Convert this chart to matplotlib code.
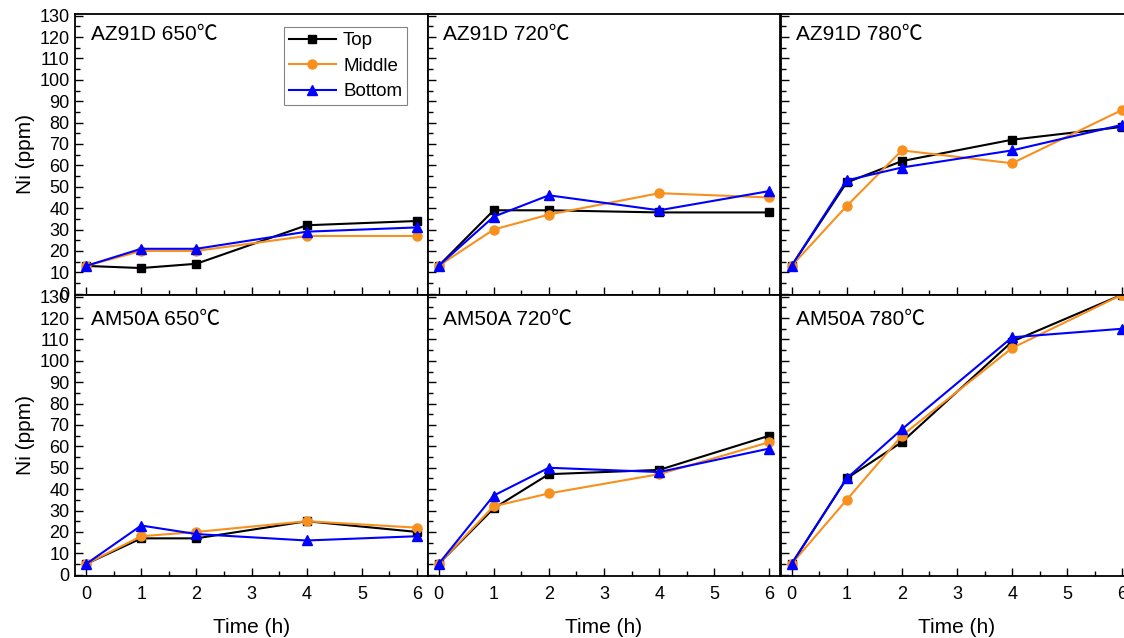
import matplotlib
matplotlib.use("Agg")
import matplotlib.pyplot as plt
from matplotlib.ticker import MultipleLocator

plt.rcParams['font.family'] = ['Liberation Sans', 'DejaVu Sans']

time_h = [0, 1, 2, 4, 6]
series_names = ["Top", "Middle", "Bottom"]
panel_titles = ["AZ91D 650℃", "AZ91D 720℃", "AZ91D 780℃",
                "AM50A 650℃", "AM50A 720℃", "AM50A 780℃"]

az650_top = [13, 12, 14, 32, 34]
az650_mid = [13, 20, 20, 27, 27]
az650_bot = [13, 21, 21, 29, 31]

az720_top = [13, 39, 39, 38, 38]
az720_mid = [13, 30, 37, 47, 45]
az720_bot = [13, 36, 46, 39, 48]

az780_top = [13, 52, 62, 72, 78]
az780_mid = [13, 41, 67, 61, 86]
az780_bot = [13, 53, 59, 67, 79]

am650_top = [5, 17, 17, 25, 20]
am650_mid = [5, 18, 20, 25, 22]
am650_bot = [5, 23, 19, 16, 18]

am720_top = [5, 31, 47, 49, 65]
am720_mid = [5, 32, 38, 47, 62]
am720_bot = [5, 37, 50, 48, 59]

am780_top = [5, 45, 62, 109, 131]
am780_mid = [5, 35, 65, 106, 131]
am780_bot = [5, 45, 68, 111, 115]

panels = [
    (az650_top, az650_mid, az650_bot),
    (az720_top, az720_mid, az720_bot),
    (az780_top, az780_mid, az780_bot),
    (am650_top, am650_mid, am650_bot),
    (am720_top, am720_mid, am720_bot),
    (am780_top, am780_mid, am780_bot),
]

colors = ["black", "#F7901E", "#0000FF"]
markers = ["s", "o", "^"]
msizes = [5.5, 6.5, 7]

W, H = 1124, 638
fig = plt.figure(figsize=(W / 100, H / 100), dpi=100)

col_left = [75, 427.5, 780.5]
col_w = 353
row_top = [13.5, 294.5]
row_h = 281.5

for idx, data in enumerate(panels):
    r, c = divmod(idx, 3)
    left = col_left[c] / W
    bottom = 1 - (row_top[r] + row_h) / H
    ax = fig.add_axes([left, bottom, col_w / W, row_h / H])
    for k in range(3):
        ax.plot(time_h, data[k], color=colors[k], marker=markers[k],
                ms=msizes[k], lw=1.5, label=series_names[k])
    ax.set_xlim(-0.2, 6.2)
    ax.set_ylim(-0.6, 131)
    ax.xaxis.set_major_locator(MultipleLocator(1))
    ax.xaxis.set_minor_locator(MultipleLocator(0.5))
    ax.yaxis.set_major_locator(MultipleLocator(10))
    ax.yaxis.set_minor_locator(MultipleLocator(5))
    ax.tick_params(which='both', direction='in', top=False, right=False,
                   labelsize=13, width=1.0)
    ax.tick_params(which='major', length=6)
    ax.tick_params(which='minor', length=3.5)
    ax.tick_params(axis='y', pad=4)
    ax.tick_params(axis='x', pad=7)
    for s in ax.spines.values():
        s.set_linewidth(1.3)
    if r == 0:
        ax.tick_params(axis='x', labelbottom=False)
    else:
        ax.set_xlabel("Time (h)", fontsize=15, labelpad=11)
    if c == 0:
        ax.set_ylabel("Ni (ppm)", fontsize=15, labelpad=3)
    else:
        ax.tick_params(axis='y', labelleft=False)
    ax.text(0.045, 0.925 if r == 0 else 0.91, panel_titles[idx],
            transform=ax.transAxes, fontsize=15, va='center', ha='left',
            family=['Liberation Sans', 'Noto Sans CJK SC'])
    if idx == 0:
        leg = ax.legend(loc='upper right', bbox_to_anchor=(0.94, 0.951),
                        borderaxespad=0, fontsize=13.5, frameon=True,
                        fancybox=False, handlelength=2.5, handletextpad=0.4,
                        labelspacing=0.45, borderpad=0.25)
        leg.get_frame().set_edgecolor('#666666')
        leg.get_frame().set_linewidth(0.8)

fig.savefig("out.png", dpi=100)
